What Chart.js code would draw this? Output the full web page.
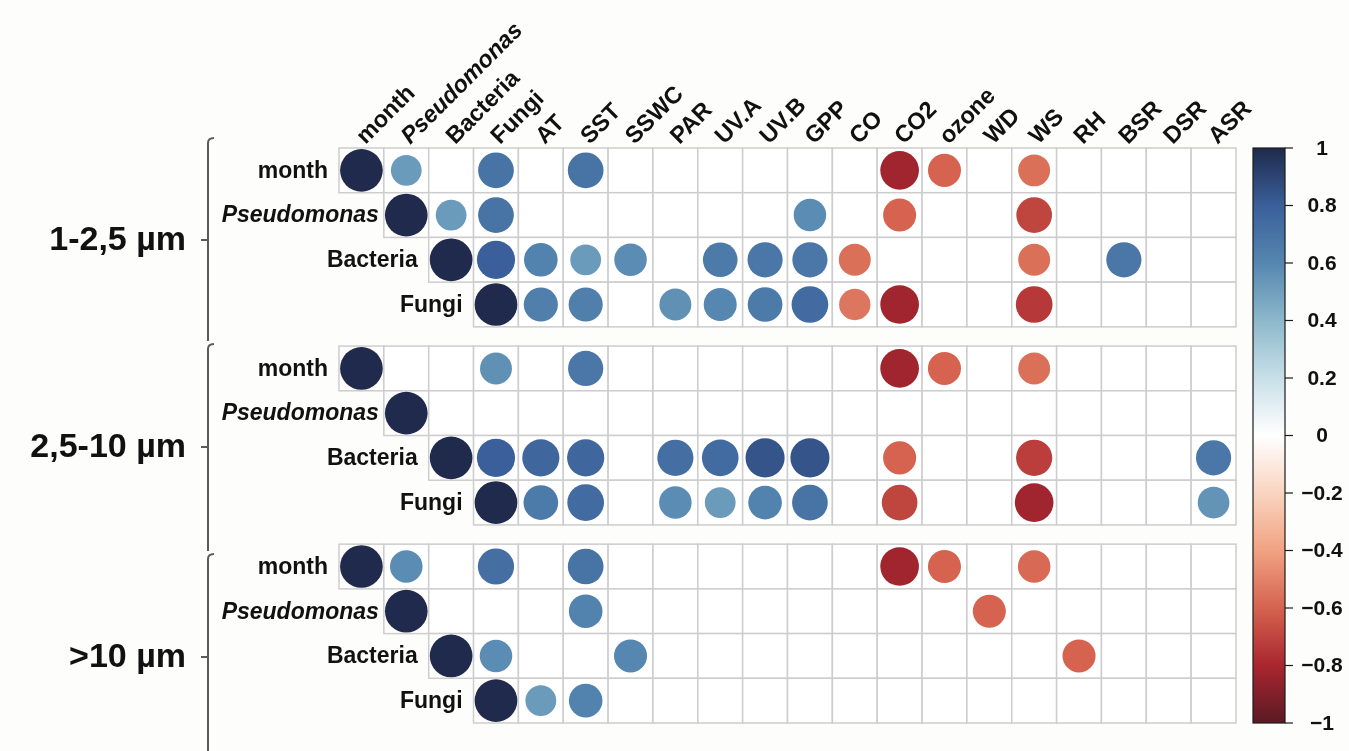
<!DOCTYPE html>
<html lang="en">
<head>
<meta charset="UTF-8" />
<title>Correlation matrix</title>
<script src="https://cdn.jsdelivr.net/npm/chart.js"></script>
<style>
  html, body { margin: 0; padding: 0; background: #fdfdfb; }
  #corr { display: block; }
</style>
</head>
<body>
<canvas id="corr" width="1349" height="751"></canvas>
<script>
// top labels (columns) and side labels (rows)
const columns = ['month', 'Pseudomonas', 'Bacteria', 'Fungi', 'AT', 'SST', 'SSWC', 'PAR', 'UV.A', 'UV.B',
                 'GPP', 'CO', 'CO2', 'ozone', 'WD', 'WS', 'RH', 'BSR', 'DSR', 'ASR'];
const rowNames = ['month', 'Pseudomonas', 'Bacteria', 'Fungi'];
const groups = ['1-2,5 µm', '2,5-10 µm', '>10 µm'];
const italicNames = ['Pseudomonas'];

// correlation values, null = not significant (blank cell)
const _ = null;
// 1-2,5 um
const fineMonth  = [1, 0.52, _, 0.70, _, 0.70, _, _, _, _, _, _, -0.82, -0.60, _, -0.56, _, _, _, _];
const finePseudo = [_, 1, 0.52, 0.70, _, _, _, _, _, _, 0.58, _, -0.60, _, _, -0.70, _, _, _, _];
const fineBact   = [_, _, 1, 0.80, 0.62, 0.52, 0.58, _, 0.66, 0.68, 0.68, -0.56, _, _, _, -0.56, _, 0.68, _, _];
const fineFungi  = [_, _, _, 1, 0.64, 0.64, _, 0.56, 0.60, 0.66, 0.74, -0.54, -0.82, _, _, -0.74, _, _, _, _];
// 2,5-10 um
const midMonth   = [1, _, _, 0.56, _, 0.68, _, _, _, _, _, _, -0.82, -0.60, _, -0.56, _, _, _, _];
const midPseudo  = [_, 1, _, _, _, _, _, _, _, _, _, _, _, _, _, _, _, _, _, _];
const midBact    = [_, _, 1, 0.80, 0.76, 0.76, _, 0.72, 0.74, 0.84, 0.84, _, -0.60, _, _, -0.72, _, _, _, 0.68];
const midFungi   = [_, _, _, 1, 0.66, 0.74, _, 0.58, 0.52, 0.62, 0.70, _, -0.70, _, _, -0.82, _, _, _, 0.55];
// >10 um
const bigMonth   = [1, 0.58, _, 0.72, _, 0.70, _, _, _, _, _, _, -0.82, -0.60, _, -0.58, _, _, _, _];
const bigPseudo  = [_, 1, _, _, _, 0.62, _, _, _, _, _, _, _, _, -0.60, _, _, _, _, _];
const bigBact    = [_, _, 1, 0.58, _, _, 0.60, _, _, _, _, _, _, _, _, _, -0.60, _, _, _];
const bigFungi   = [_, _, _, 1, 0.52, 0.62, _, _, _, _, _, _, _, _, _, _, _, _, _, _];

const colorbarTicks = [1, 0.8, 0.6, 0.4, 0.2, 0, -0.2, -0.4, -0.6, -0.8, -1];

const panels = [
    [fineMonth, finePseudo, fineBact, fineFungi],
    [midMonth, midPseudo, midBact, midFungi],
    [bigMonth, bigPseudo, bigBact, bigFungi]
];

// colour ramp (value -> colour)
const ramp = [
    [-1, '#5a1a24'], [-0.8, '#a9262f'], [-0.6, '#d5634f'], [-0.4, '#f1a282'], [-0.2, '#fad4c0'],
    [0, '#ffffff'], [0.2, '#c8dfe8'], [0.4, '#8db8cb'], [0.6, '#5587b0'], [0.8, '#3a5f9a'], [1, '#1f2a4c']
];
function hexRgb(h) { return [1, 3, 5].map(i => parseInt(h.substr(i, 2), 16)); }
function colorFor(v) {
    for (let i = 0; i < ramp.length - 1; i++) {
        const a = ramp[i], b = ramp[i + 1];
        if (v >= a[0] && v <= b[0]) {
            const t = (v - a[0]) / (b[0] - a[0]);
            const ca = hexRgb(a[1]), cb = hexRgb(b[1]);
            const c = ca.map((x, k) => Math.round(x + (cb[k] - x) * t));
            return 'rgb(' + c.join(',') + ')';
        }
    }
    return ramp[ramp.length - 1][1];
}

const STEP = 4.43; // vertical distance between panels, in rows
const points = [];
panels.forEach((rows, p) => rows.forEach((vals, r) => vals.forEach((v, c) => {
    if (v !== null) points.push({ x: c, y: p * STEP + r, v: v });
})));

const FONT = '"Liberation Sans", Arial, sans-serif';
function labelFont(name, size) {
    return (italicNames.includes(name) ? 'italic ' : '') + '700 ' + size + 'px ' + FONT;
}

const decor = {
    id: 'decor',
    beforeDatasetsDraw(chart) {
        const ctx = chart.ctx, xs = chart.scales.x, ys = chart.scales.y;
        ctx.save();
        ctx.lineWidth = 1.5;
        ctx.strokeStyle = '#cdcdcd';
        for (let p = 0; p < panels.length; p++) {
            for (let r = 0; r < rowNames.length; r++) {
                const y0 = ys.getPixelForValue(p * STEP + r - 0.5);
                const y1 = ys.getPixelForValue(p * STEP + r + 0.5);
                for (let c = r; c < columns.length; c++) {
                    const x0 = xs.getPixelForValue(c - 0.5), x1 = xs.getPixelForValue(c + 0.5);
                    ctx.fillStyle = '#ffffff';
                    ctx.fillRect(x0, y0, x1 - x0, y1 - y0);
                    ctx.strokeRect(x0, y0, x1 - x0, y1 - y0);
                }
            }
        }
        ctx.restore();
    },
    afterDatasetsDraw(chart) {
        const ctx = chart.ctx, xs = chart.scales.x, ys = chart.scales.y, cb = chart.scales.cbar;
        ctx.save();
        ctx.fillStyle = '#111';

        // row labels
        ctx.textAlign = 'right';
        ctx.textBaseline = 'middle';
        for (let p = 0; p < panels.length; p++) {
            rowNames.forEach((name, r) => {
                ctx.font = labelFont(name, 23);
                const gap = italicNames.includes(name) ? 5 : 11;
                ctx.fillText(name, xs.getPixelForValue(r - 0.5) - gap, ys.getPixelForValue(p * STEP + r) + 1);
            });
        }

        // column labels, rotated
        const topY = ys.getPixelForValue(-0.5);
        ctx.textAlign = 'left';
        ctx.textBaseline = 'alphabetic';
        columns.forEach((name, c) => {
            ctx.save();
            ctx.translate(xs.getPixelForValue(c) + 4, topY - 3);
            ctx.rotate(-Math.PI / 4);
            ctx.font = labelFont(name, 23.5);
            ctx.fillText(name, 0, 0);
            ctx.restore();
        });

        // size groups with brackets
        const brackets = [[138, 341, 240], [344, 551, 447], [554, 760, 657]];
        ctx.strokeStyle = '#5a5a5a';
        ctx.lineWidth = 2;
        groups.forEach((g, i) => {
            const b = brackets[i];
            ctx.beginPath();
            ctx.moveTo(214, b[0]);
            ctx.quadraticCurveTo(208, b[0], 208, b[0] + 5);
            ctx.lineTo(208, b[1]);
            ctx.moveTo(201, b[2]);
            ctx.lineTo(208, b[2]);
            ctx.stroke();
            ctx.font = '700 34px ' + FONT;
            ctx.textAlign = 'right';
            ctx.textBaseline = 'middle';
            ctx.fillText(g, 186, b[2] + 1);
        });

        // colour bar
        const bx0 = 1253, bx1 = 1285;
        const top = cb.getPixelForValue(1), bot = cb.getPixelForValue(-1);
        const grad = ctx.createLinearGradient(0, bot, 0, top);
        ramp.forEach(s => grad.addColorStop((s[0] + 1) / 2, s[1]));
        ctx.fillStyle = grad;
        ctx.fillRect(bx0, top, bx1 - bx0, bot - top);
        ctx.strokeStyle = '#1b1b1b';
        ctx.lineWidth = 1.2;
        ctx.strokeRect(bx0, top, bx1 - bx0, bot - top);
        ctx.fillStyle = '#111';
        ctx.font = '700 21px ' + FONT;
        ctx.textAlign = 'center';
        ctx.textBaseline = 'middle';
        colorbarTicks.forEach(t => {
            const y = cb.getPixelForValue(t);
            ctx.beginPath();
            ctx.moveTo(bx1, y);
            ctx.lineTo(bx1 + 8, y);
            ctx.stroke();
            const txt = t === 0 ? '0' : (t < 0 ? '\u2212' : '') + String(Math.abs(t));
            ctx.fillText(txt, 1322, y + 1);
        });
        ctx.restore();
    }
};

new Chart(document.getElementById('corr'), {
    type: 'scatter',
    data: {
        datasets: [{
            data: points,
            clip: false,
            showLine: false,
            pointBorderWidth: 0,
            pointRadius: (c) => {
                const xs = c.chart.scales.x;
                const cell = xs.getPixelForValue(1) - xs.getPixelForValue(0);
                const v = c.raw ? c.raw.v : 0;
                return Math.sqrt(Math.abs(v)) * cell * 0.476;
            },
            pointBackgroundColor: (c) => colorFor(c.raw ? c.raw.v : 0),
            pointBorderColor: (c) => colorFor(c.raw ? c.raw.v : 0)
        }]
    },
    options: {
        responsive: false,
        animation: false,
        events: [],
        layout: { padding: { left: 339, right: 113, top: 148, bottom: 28 } },
        plugins: { legend: { display: false }, tooltip: { enabled: false } },
        scales: {
            x: { type: 'linear', min: -0.5, max: columns.length - 0.5, display: false },
            y: { type: 'linear', reverse: true, min: -0.5, max: 2 * STEP + 3.5, display: false },
            cbar: { type: 'linear', position: 'right', min: -1, max: 1, display: false }
        }
    },
    plugins: [decor]
});
</script>
</body>
</html>
